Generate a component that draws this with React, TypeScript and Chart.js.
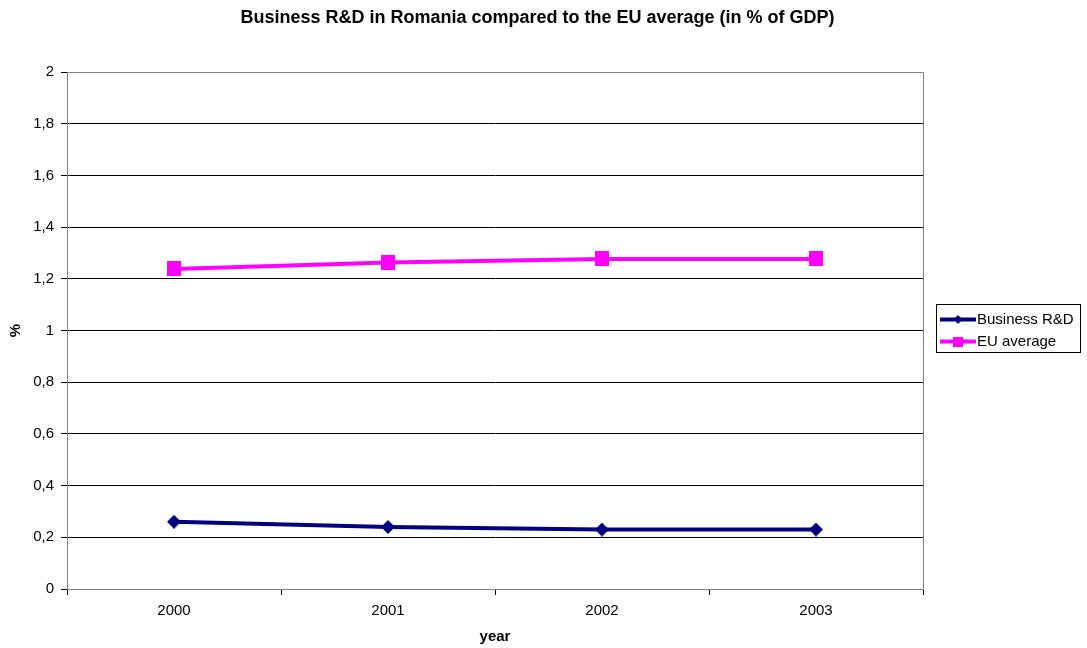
import React, { useEffect, useRef } from "react";
import { Chart, registerables } from "chart.js";

Chart.register(...registerables);

const years = ["2000", "2001", "2002", "2003"];
const businessRD = [0.26, 0.24, 0.23, 0.23];
const euAverage = [1.238, 1.263, 1.277, 1.277];
const titleText = "Business R&D in Romania compared to the EU average (in % of GDP)";
const seriesNames = ["Business R&D", "EU average"];
const seriesColors = ["#000080", "#FF00FF"];
const FONT = "Arial, 'Liberation Sans', sans-serif";

function makeMarker(kind: "diamond" | "rect", color: string, w: number, h: number) {
  const c = document.createElement("canvas");
  c.width = w;
  c.height = h;
  const ctx = c.getContext("2d")!;
  ctx.fillStyle = color;
  if (kind === "rect") {
    ctx.fillRect(0, 0, w, h);
  } else {
    ctx.beginPath();
    ctx.moveTo(w / 2, 0);
    ctx.lineTo(w, h / 2);
    ctx.lineTo(w / 2, h);
    ctx.lineTo(0, h / 2);
    ctx.closePath();
    ctx.fill();
  }
  return c;
}

export default function App() {
  const ref = useRef<HTMLCanvasElement>(null);
  useEffect(() => {
    document.body.style.margin = "0";
    const diamond = makeMarker("diamond", seriesColors[0], 14, 14);
    const square = makeMarker("rect", seriesColors[1], 14, 15);
    const legendDiamond = makeMarker("diamond", seriesColors[0], 9, 9);
    const legendSquare = makeMarker("rect", seriesColors[1], 10, 10);
    const legendMarkers = [legendDiamond, legendSquare];

    const frame = {
      id: "frame",
      beforeDatasetsDraw(chart: any) {
        const { ctx, chartArea: a } = chart;
        ctx.save();
        ctx.strokeStyle = "#808080";
        ctx.lineWidth = 1;
        ctx.beginPath();
        ctx.moveTo(a.left, Math.round(a.top) + 0.5);
        ctx.lineTo(Math.round(a.right) + 0.5, Math.round(a.top) + 0.5);
        ctx.lineTo(Math.round(a.right) + 0.5, a.bottom);
        ctx.stroke();
        ctx.restore();
      },
      afterDraw(chart: any) {
        const ctx = chart.ctx;
        ctx.save();
        // title
        ctx.fillStyle = "#000";
        ctx.font = "bold 18px " + FONT;
        ctx.textAlign = "center";
        ctx.textBaseline = "middle";
        ctx.fillText(titleText, 537.5, 18);
        // legend
        const x0 = 936, y0 = 304, w = 144, h = 48;
        ctx.fillStyle = "#fff";
        ctx.fillRect(x0, y0, w, h);
        ctx.strokeStyle = "#000";
        ctx.lineWidth = 1;
        ctx.strokeRect(x0 + 0.5, y0 + 0.5, w, h);
        ctx.font = "15px " + FONT;
        ctx.textBaseline = "middle";
        ctx.textAlign = "left";
        const rows = [319.5, 341.5];
        for (let i = 0; i < seriesNames.length; i++) {
          const y = rows[i];
          ctx.strokeStyle = seriesColors[i];
          ctx.lineWidth = 4;
          ctx.beginPath();
          ctx.moveTo(940, y);
          ctx.lineTo(976, y);
          ctx.stroke();
          const m = legendMarkers[i];
          ctx.drawImage(m, 958 - m.width / 2, y - m.height / 2);
          ctx.fillStyle = "#000";
          ctx.fillText(seriesNames[i], 977, y);
        }
        ctx.restore();
      },
    };

    const chart = new Chart(ref.current!, {
      type: "line",
      data: {
        labels: years,
        datasets: [
          {
            label: seriesNames[0],
            data: businessRD,
            borderColor: seriesColors[0],
            backgroundColor: seriesColors[0],
            borderWidth: 4,
            pointStyle: diamond as any,
            pointRadius: 7,
            tension: 0,
          },
          {
            label: seriesNames[1],
            data: euAverage,
            borderColor: seriesColors[1],
            backgroundColor: seriesColors[1],
            borderWidth: 4,
            pointStyle: square as any,
            pointRadius: 7,
            tension: 0,
          },
        ],
      },
      options: {
        animation: false,
        responsive: false,
        layout: { padding: { left: 0, right: 164, top: 72, bottom: 0 } },
        plugins: {
          legend: { display: false },
          tooltip: { enabled: false },
          title: { display: false },
        },
        scales: {
          x: {
            offset: true,
            grid: {
              offset: true,
              drawOnChartArea: false,
              drawTicks: true,
              tickLength: 6,
              color: "#000",
            },
            border: { color: "#808080", width: 1 },
            ticks: {
              color: "#000",
              font: { family: FONT, size: 15 },
              padding: 7,
              maxRotation: 0,
            },
            title: {
              display: true,
              text: "year",
              color: "#000",
              font: { family: FONT, size: 15, weight: "bold" },
              padding: { top: 0, bottom: 2 },
            },
            afterFit(scale: any) {
              scale.height = 59;
            },
          },
          y: {
            min: 0,
            max: 2,
            grid: {
              color: "#000",
              lineWidth: 1,
              tickLength: 6,
              drawTicks: true,
            },
            border: { color: "#808080", width: 1 },
            ticks: {
              stepSize: 0.2,
              color: "#000",
              padding: 7,
              font: { family: FONT, size: 15 },
              callback: (v: any) => {
                const n = Math.round(Number(v) * 10) / 10;
                return String(n).replace(".", ",");
              },
            },
            title: {
              display: true,
              text: "%",
              color: "#000",
              font: { family: FONT, size: 15, weight: "bold" },
              padding: { top: 7, bottom: 0 },
            },
            afterFit(scale: any) {
              scale.width = 67;
            },
          },
        },
      },
      plugins: [frame],
    });
    return () => chart.destroy();
  }, []);
  return (
    <div style={{ position: "absolute", left: 0, top: 0, width: 1087, height: 648, background: "#fff" }}>
      <canvas ref={ref} width={1087} height={648} />
    </div>
  );
}
